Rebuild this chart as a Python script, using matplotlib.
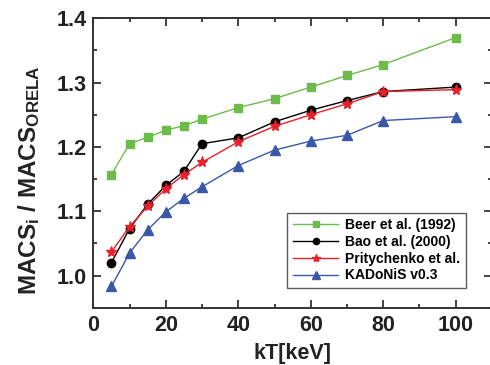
import matplotlib
matplotlib.use("Agg")
import matplotlib.pyplot as plt
from matplotlib.ticker import MultipleLocator

plt.rcParams['font.family'] = ['Liberation Sans', 'DejaVu Sans']
plt.rcParams['font.weight'] = 'bold'
plt.rcParams['mathtext.fontset'] = 'custom'
plt.rcParams['mathtext.rm'] = 'Liberation Sans:bold'
plt.rcParams['mathtext.bf'] = 'Liberation Sans:bold'
plt.rcParams['mathtext.default'] = 'bf'

# данные
kT = [5, 10, 15, 20, 25, 30, 40, 50, 60, 70, 80, 100]
beer = [1.157, 1.205, 1.215, 1.226, 1.233, 1.243, 1.261, 1.275, 1.293, 1.311, 1.328, 1.370]
bao = [1.020, 1.073, 1.111, 1.140, 1.162, 1.205, 1.214, 1.239, 1.257, 1.272, 1.286, 1.293]
prit = [1.037, 1.076, 1.108, 1.135, 1.157, 1.176, 1.208, 1.232, 1.250, 1.267, 1.286, 1.289]
kadonis = [0.983, 1.035, 1.071, 1.099, 1.120, 1.138, 1.171, 1.195, 1.209, 1.218, 1.241, 1.247]
labels = ['Beer et al. (1992)', 'Bao et al. (2000)', 'Pritychenko et al.', 'KADoNiS v0.3']

fig = plt.figure(figsize=(4.9, 3.65), dpi=100)
ax = fig.add_axes([0.1905, 0.157, 1.004 - 0.1905, 0.95 - 0.157])

ax.plot(kT, beer, '-s', color='#6dbb4a', lw=1, ms=6, mec='#6dbb4a', label=labels[0])
ax.plot(kT, bao, '-o', color='black', lw=1, ms=6, label=labels[1])
ax.plot(kT, prit, '-*', color='#e8202a', lw=1, ms=8, label=labels[2])
ax.plot(kT, kadonis, '-^', color='#3a58a8', lw=1, ms=7, label=labels[3])

ax.set_xlim(0, 110)
ax.set_ylim(0.95, 1.4)
ax.xaxis.set_minor_locator(MultipleLocator(10))
ax.yaxis.set_major_locator(MultipleLocator(0.1))
ax.yaxis.set_minor_locator(MultipleLocator(0.05))
ax.set_xticks([0, 20, 40, 60, 80, 100])
ax.tick_params(which='both', direction='in', top=True, right=True, width=1.2, colors='#222222')
ax.tick_params(which='major', length=6, labelsize=15.5, pad=5)
ax.tick_params(which='minor', length=3)
for lab in ax.get_xticklabels() + ax.get_yticklabels():
    lab.set_fontweight('bold')
    lab.set_color('#222222')
for s in ax.spines.values():
    s.set_linewidth(1.4)
    s.set_color('#333333')

ax.set_xlabel('kT[keV]', fontsize=15.5, fontweight='bold', labelpad=5, color='#222222')
ax.set_ylabel('MACS$_{i}$ / MACS$_{ORELA}$', fontsize=17.5, fontweight='bold', labelpad=10, color='#222222')
ax.yaxis.label.set_y(0.44)

leg = ax.legend(loc='lower right', bbox_to_anchor=(0.935, 0.068), fontsize=10,
                handlelength=3.3, markerscale=0.75, frameon=True, fancybox=False,
                borderpad=0.4, labelspacing=0.2, handletextpad=0.5, borderaxespad=0)
leg.get_frame().set_edgecolor('#333333')
leg.get_frame().set_linewidth(1.0)
for t in leg.get_texts():
    t.set_fontweight('bold')

fig.savefig('out.png', dpi=100)
